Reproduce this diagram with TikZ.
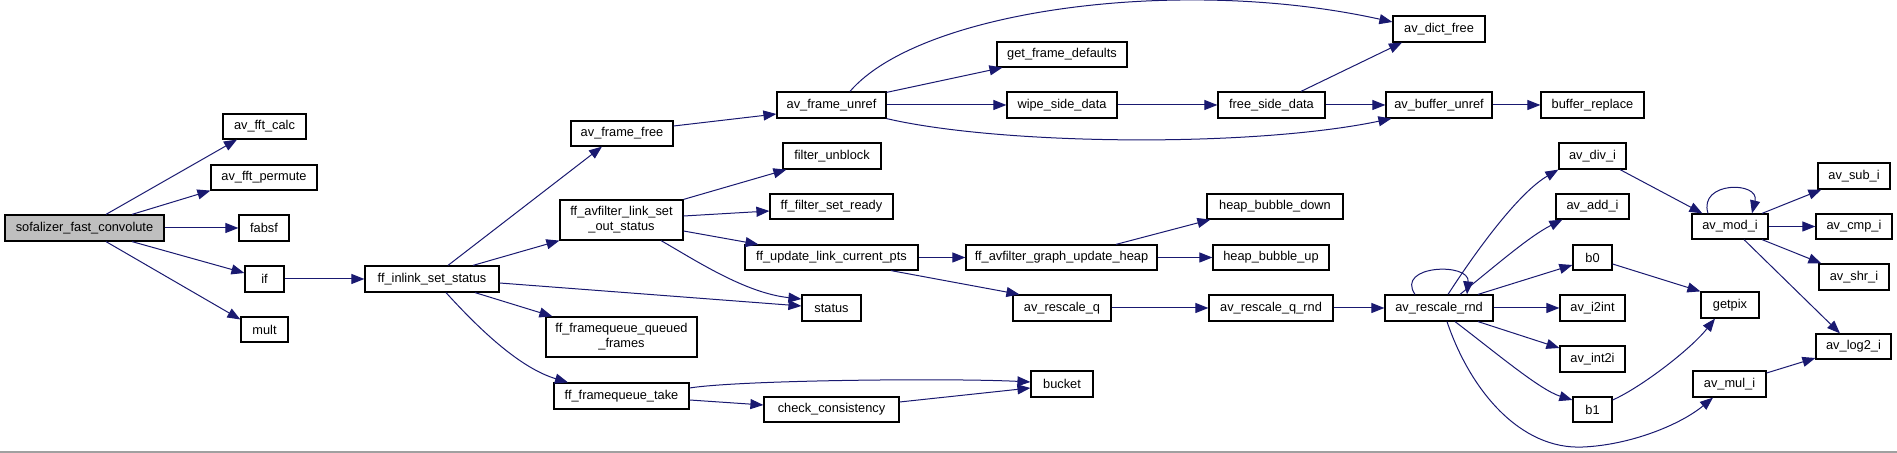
\documentclass[tikz,border=0pt]{standalone}
\usepackage{fontspec}
\setmainfont{Liberation Sans}
\usetikzlibrary{calc,arrows.meta}
\definecolor{edgeblue}{HTML}{191970}
\definecolor{sofagray}{HTML}{BFBFBF}
\definecolor{framegray}{HTML}{A0A0A0}
\newcommand\gnode[7][]{\node[gbox,#1,minimum width={(#5-#3)*0.5pt},minimum height={(#6-#4)*0.5pt}] (#2) at ({(#3+#5)/2},{(#4+#6)/2}) {#7};}
\begin{document}
\begin{tikzpicture}[x=0.5pt,y=-0.5pt,
  gbox/.style={draw=black,line width=0.6pt,fill=white,inner sep=0pt,align=center,
    font=\fontsize{6.4}{7.5}\selectfont},
  edge/.style={draw=edgeblue,line width=0.5pt,-{Triangle[length=6.5pt,width=5pt]}}]
\useasboundingbox (0,0) rectangle (1897,453);
\draw[framegray,line width=0.6pt] (0,452) -- (1897,452);
% nodes
\gnode[fill=sofagray]{sofa}{5}{215}{164}{241}{sofalizer\_fast\_convolute}
\gnode{fftcalc}{223}{114}{306}{139}{av\_fft\_calc}
\gnode{fftperm}{211}{165}{317}{190}{av\_fft\_permute}
\gnode{fabsf}{239}{215}{289}{241}{fabsf}
\gnode{ifn}{245}{266}{284}{292}{if}
\gnode{mult}{241}{317}{288}{342}{mult}
\gnode{inlink}{365}{266}{499}{292}{ff\_inlink\_set\_status}
\gnode{avff}{571}{121}{673}{146}{av\_frame\_free}
\gnode{linkset}{560}{200}{683}{240}{ff\_avfilter\_link\_set\\\_out\_status}
\gnode{fqqf}{546}{317}{697}{357}{ff\_framequeue\_queued\\\_frames}
\gnode{fqtake}{554}{383}{689}{409}{ff\_framequeue\_take}
\gnode{unref}{777}{92}{886}{118}{av\_frame\_unref}
\gnode{funb}{783}{143}{881}{169}{filter\_unblock}
\gnode{setready}{770}{194}{893}{219}{ff\_filter\_set\_ready}
\gnode{updpts}{745}{245}{918}{270}{ff\_update\_link\_current\_pts}
\gnode{status}{802}{295}{861}{321}{status}
\gnode{checkc}{764}{397}{899}{422}{check\_consistency}
\gnode{getfd}{997}{42}{1127}{67}{get\_frame\_defaults}
\gnode{wipe}{1007}{92}{1117}{118}{wipe\_side\_data}
\gnode{heapupd}{966}{245}{1157}{270}{ff\_avfilter\_graph\_update\_heap}
\gnode{rescaleq}{1013}{295}{1111}{321}{av\_rescale\_q}
\gnode{bucket}{1031}{371}{1093}{397}{bucket}
\gnode{freesd}{1218}{92}{1325}{118}{free\_side\_data}
\gnode{hbd}{1207}{194}{1343}{219}{heap\_bubble\_down}
\gnode{hbu}{1213}{245}{1329}{270}{heap\_bubble\_up}
\gnode{rqrnd}{1209}{295}{1333}{321}{av\_rescale\_q\_rnd}
\gnode{dictfree}{1393}{16}{1485}{42}{av\_dict\_free}
\gnode{bufunref}{1386}{92}{1492}{118}{av\_buffer\_unref}
\gnode{rrnd}{1385}{295}{1493}{321}{av\_rescale\_rnd}
\gnode{bufrep}{1541}{92}{1644}{118}{buffer\_replace}
\gnode{divi}{1559}{143}{1626}{169}{av\_div\_i}
\gnode{addi}{1556}{194}{1629}{219}{av\_add\_i}
\gnode{bzero}{1573}{245}{1612}{270}{b0}
\gnode{i2int}{1560}{295}{1625}{321}{av\_i2int}
\gnode{int2i}{1560}{346}{1625}{372}{av\_int2i}
\gnode{bone}{1573}{397}{1612}{422}{b1}
\gnode{modi}{1692}{214}{1768}{239}{av\_mod\_i}
\gnode{getpix}{1701}{292}{1759}{318}{getpix}
\gnode{muli}{1693}{371}{1766}{397}{av\_mul\_i}
\gnode{subi}{1818}{163}{1890}{189}{av\_sub\_i}
\gnode{cmpi}{1816}{214}{1892}{239}{av\_cmp\_i}
\gnode{shri}{1819}{264}{1889}{290}{av\_shr\_i}
\gnode{log2i}{1816}{334}{1891}{359}{av\_log2\_i}
% edges
\draw[edge] ($(sofa.north)+(21.5,0)$) -- ($(fftcalc.south)+(-27.5,0)$);
\draw[edge] ($(sofa.north)+(47.5,0)$) -- (fftperm.south west);
\draw[edge] (sofa.east) -- (fabsf.west);
\draw[edge] ($(sofa.south)+(47.5,0)$) -- ($(ifn.west)+(0,-6)$);
\draw[edge] ($(sofa.south)+(21.5,0)$) -- ($(mult.west)+(0,-10)$);
\draw[edge] (ifn.east) -- (inlink.west);
\draw[edge] ($(inlink.north)+(16,0)$) -- ($(avff.south)+(-20,0)$);
\draw[edge] ($(inlink.north)+(41,0)$) -- (linkset.south west);
\draw[edge] ($(inlink.east)+(0,4)$) -- ($(status.west)+(0,-2)$);
\draw[edge] ($(inlink.south)+(43,0)$) -- ($(fqqf.north west)+(7,0)$);
\draw[edge] ($(inlink.south)+(14,0)$) .. controls (480,330) and (520,368) .. ($(fqtake.north)+(-53.5,0)$);
\draw[edge] (linkset.north east) -- ($(funb.south west)+(4,0)$);
\draw[edge] ($(linkset.east)+(0,-4)$) -- ($(setready.west)+(0,4.5)$);
\draw[edge] ($(linkset.east)+(0,11)$) -- ($(updpts.north west)+(14,0)$);
\draw[edge] ($(linkset.south)+(39.5,0)$) .. controls (695,260) and (745,293) .. ($(status.west)+(0,-9)$);
\draw[edge] ($(avff.east)+(0,-7.5)$) -- ($(unref.west)+(0,9)$);
\draw[edge] ($(unref.north)+(18.5,0)$) .. controls (920,10) and (1180,-25) .. ($(dictfree.west)+(0,-7)$);
\draw[edge] ($(unref.north east)+(0,1)$) -- ($(getfd.south west)+(6,0)$);
\draw[edge] (unref.east) -- (wipe.west);
\draw[edge] (unref.south east) .. controls (1000,145) and (1250,148) .. ($(bufunref.south west)+(6,0)$);
\draw[edge] (wipe.east) -- (freesd.west);
\draw[edge] ($(freesd.north)+(29.5,0)$) -- ($(dictfree.south)+(-37,0)$);
\draw[edge] (freesd.east) -- (bufunref.west);
\draw[edge] (bufunref.east) -- (bufrep.west);
\draw[edge] (updpts.east) -- (heapupd.west);
\draw[edge] ($(updpts.south)+(59.5,0)$) -- ($(rescaleq.north west)+(7,0)$);
\draw[edge] ($(heapupd.north)+(54.5,0)$) -- ($(hbd.south west)+(4,0)$);
\draw[edge] (heapupd.east) -- (hbu.west);
\draw[edge] (rescaleq.east) -- (rqrnd.west);
\draw[edge] (rqrnd.east) -- (rrnd.west);
\draw[edge] ($(rrnd.north)+(-24,0)$) .. controls (1395,265) and (1470,262) .. ($(rrnd.north)+(28,0)$);
\draw[edge] ($(rrnd.north)+(9,0)$) .. controls (1480,245) and (1520,192) .. (divi.south west);
\draw[edge] ($(rrnd.north)+(21,0)$) .. controls (1500,262) and (1530,236) .. ($(addi.south west)+(7,0)$);
\draw[edge] ($(rrnd.north)+(39,0)$) -- ($(bzero.west)+(0,7.5)$);
\draw[edge] (rrnd.east) -- (i2int.west);
\draw[edge] ($(rrnd.south)+(39,0)$) -- ($(int2i.west)+(0,-11)$);
\draw[edge] ($(rrnd.south)+(16,0)$) .. controls (1495,352) and (1540,390) .. ($(bone.west)+(0,-9.5)$);
\draw[edge] ($(rrnd.south)+(8,0)$) .. controls (1470,390) and (1520,450) .. (1583,447) .. controls (1630,445) and (1680,425) .. ($(muli.south)+(-16.5,0)$);
\draw[edge] ($(divi.south)+(27.5,0)$) -- ($(modi.north west)+(11,0)$);
\draw[edge] ($(modi.north)+(-22,0)$) .. controls (1698,181) and (1760,181) .. ($(modi.north)+(22,0)$);
\draw[edge] ($(modi.north)+(32,0)$) -- ($(subi.south west)+(4,0)$);
\draw[edge] (modi.east) -- (cmpi.west);
\draw[edge] ($(modi.south)+(32,0)$) -- ($(shri.north west)+(3,0)$);
\draw[edge] ($(modi.south)+(14,0)$) -- ($(log2i.north)+(-13.5,0)$);
\draw[edge] ($(bzero.east)+(0,6.5)$) -- (getpix.north west);
\draw[edge] ($(bone.east)+(0,-9.5)$) .. controls (1640,388) and (1690,350) .. ($(getpix.south)+(-15,0)$);
\draw[edge] ($(muli.east)+(0,-11)$) -- ($(log2i.west)+(0,11.5)$);
\draw[edge] ($(fqtake.east)+(0,-8)$) .. controls (740,380) and (950,378) .. ($(bucket.west)+(0,-2)$);
\draw[edge] ($(fqtake.east)+(0,4)$) -- ($(checkc.west)+(0,-4.5)$);
\draw[edge] ($(checkc.east)+(0,-7.5)$) -- ($(bucket.west)+(0,4)$);
\end{tikzpicture}
\end{document}
